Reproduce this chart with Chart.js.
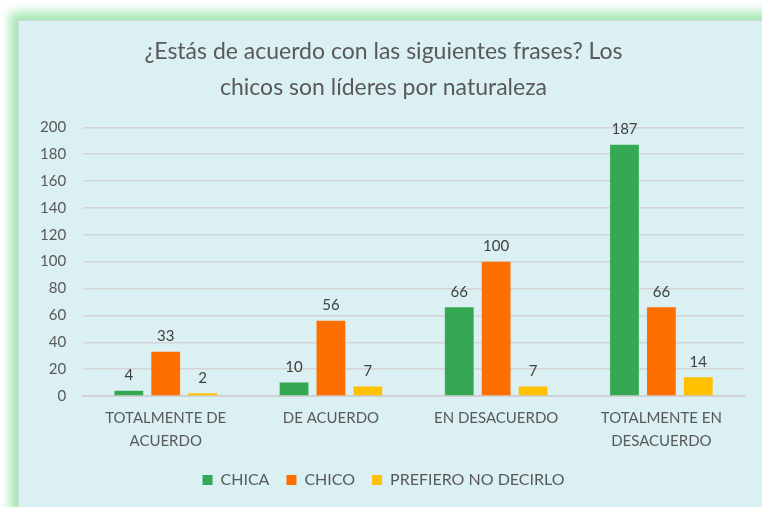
<!DOCTYPE html>
<html>
<head>
<meta charset="utf-8">
<script src="https://cdn.jsdelivr.net/npm/chart.js@4"></script>
<style>
  html, body { margin: 0; padding: 0; background: #ffffff; overflow: hidden; }
  #marco {
    position: absolute; left: 18px; top: 20px; width: 760px; height: 500px;
    background: #daf0f3;
    box-shadow: -4px -4px 10px 4px #a6e8b4;
    border-left: 1px solid #cfd8da; border-top: 1px solid #cfd8da;
  }
  #grafico { display: block; }
</style>
</head>
<body>
<div id="marco"><canvas id="grafico" width="744" height="487"></canvas></div>
<script>
// Datos
const categorias = [['TOTALMENTE DE', 'ACUERDO'], 'DE ACUERDO', 'EN DESACUERDO', ['TOTALMENTE EN', 'DESACUERDO']];
const chica = [4, 10, 66, 187];
const chico = [33, 56, 100, 66];
const prefiero = [2, 7, 7, 14];
const titulo = ['¿Estás de acuerdo con las siguientes frases? Los', 'chicos son líderes por naturaleza'];

const fuente = "Lato, 'Noto Sans', sans-serif";
const gris = '#595959';

// Plugin sencillo para escribir el valor encima de cada barra
const etiquetas = {
    id: 'etiquetas',
    afterDatasetsDraw(chart) {
        const ctx = chart.ctx;
        ctx.save();
        ctx.font = '15px ' + fuente;
        ctx.fillStyle = '#404040';
        ctx.textAlign = 'center';
        ctx.textBaseline = 'bottom';
        chart.data.datasets.forEach(function(ds, i) {
            chart.getDatasetMeta(i).data.forEach(function(barra, j) {
                ctx.fillText(ds.data[j], barra.x, barra.y - 8);
            });
        });
        ctx.restore();
    }
};

const ctx = document.getElementById('grafico').getContext('2d');
new Chart(ctx, {
    type: 'bar',
    data: {
        labels: categorias,
        datasets: [
            { label: 'CHICA', data: chica, backgroundColor: '#34a853' },
            { label: 'CHICO', data: chico, backgroundColor: '#ff6f00' },
            { label: 'PREFIERO NO DECIRLO', data: prefiero, backgroundColor: '#ffc000' }
        ]
    },
    options: {
        responsive: false,
        animation: false,
        categoryPercentage: 0.67,
        barPercentage: 0.78,
        layout: { padding: { left: 4, right: 19, top: 4, bottom: 10 } },
        plugins: {
            title: {
                display: true,
                text: titulo,
                color: gris,
                font: { family: fuente, size: 23, weight: 'normal', lineHeight: 1.55 },
                padding: { top: 9, bottom: 22 }
            },
            legend: {
                position: 'bottom',
                labels: {
                    color: gris,
                    font: { family: fuente, size: 16 },
                    boxWidth: 10,
                    boxHeight: 10,
                    padding: 17
                }
            },
            tooltip: { enabled: false }
        },
        scales: {
            x: {
                grid: { display: false },
                border: { color: '#d0d0d0', width: 2 },
                ticks: { color: gris, font: { family: fuente, size: 15, lineHeight: 1.5 }, maxRotation: 0, padding: 3 }
            },
            y: {
                min: 0,
                max: 200,
                ticks: { stepSize: 20, color: gris, font: { family: fuente, size: 15 }, padding: 17 },
                grid: { color: '#d4d4d4', lineWidth: 1.5, drawTicks: false },
                border: { display: false }
            }
        }
    },
    plugins: [etiquetas]
});
</script>
</body>
</html>
